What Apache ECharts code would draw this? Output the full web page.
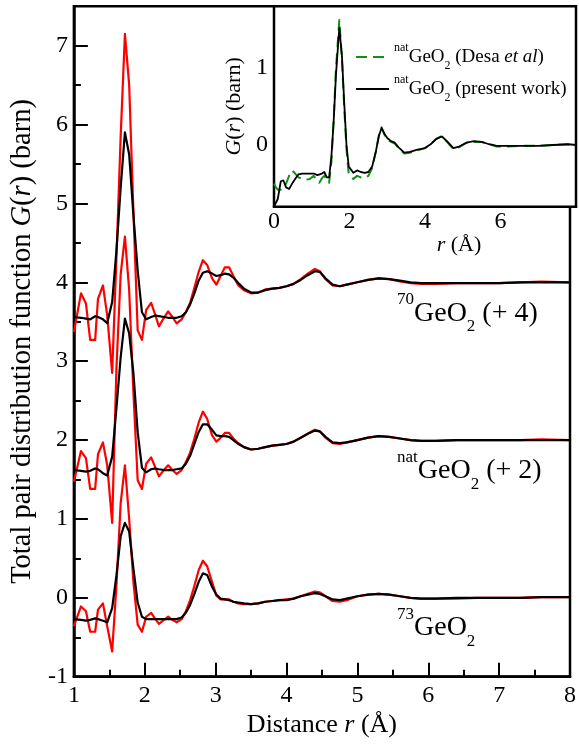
<!DOCTYPE html>
<html>
<head>
<meta charset="utf-8">
<script src="https://cdn.jsdelivr.net/npm/echarts@6/dist/echarts.min.js"></script>
<style>
html,body{margin:0;padding:0;background:#fff;}
#c{width:579px;height:745px;}
</style>
</head>
<body>
<div id="c"></div>
<script>
// ---------- data: main panel (r in Å, G(r) in barn, offsets already included) ----------
const rMain = [1.00,1.10,1.17,1.23,1.30,1.34,1.41,1.47,1.54,1.60,1.66,1.72,1.78,1.84,1.90,
  1.96,2.02,2.09,2.15,2.20,2.27,2.33,2.39,2.45,2.52,
  2.58,2.64,2.70,2.76,2.82,2.88,2.95,3.01,3.07,3.13,
  3.19,3.25,3.32,3.40,3.50,3.60,3.70,3.80,3.90,4.00,
  4.10,4.20,4.30,4.40,4.47,4.55,4.65,4.75,4.85,5.00,
  5.15,5.30,5.45,5.60,5.75,5.90,6.10,6.40,6.70,7.00,
  7.30,7.60,8.00];

const red70 = [3.37,3.86,3.73,3.27,3.27,3.79,3.96,3.58,2.85,4.30,5.85,7.15,6.50,4.90,3.39,
  3.27,3.65,3.74,3.58,3.44,3.55,3.63,3.56,3.48,3.53,
  3.62,3.74,3.93,4.13,4.28,4.22,4.05,3.97,4.08,4.19,
  4.19,4.08,3.96,3.90,3.86,3.87,3.91,3.92,3.93,3.95,
  3.98,4.04,4.11,4.17,4.14,4.04,3.96,3.95,3.97,4.00,
  4.03,4.05,4.04,4.01,3.99,3.98,3.98,3.99,3.99,3.99,
  4.00,4.01,4.00];
const black70 = [3.56,3.55,3.54,3.53,3.57,3.56,3.53,3.48,3.75,4.40,5.20,5.90,5.62,4.85,4.15,
  3.62,3.53,3.56,3.58,3.57,3.56,3.55,3.55,3.55,3.57,
  3.62,3.72,3.86,4.02,4.12,4.14,4.11,4.08,4.09,4.11,
  4.10,4.06,3.99,3.92,3.87,3.87,3.90,3.92,3.93,3.95,
  3.98,4.03,4.09,4.14,4.13,4.05,3.97,3.95,3.97,4.00,
  4.03,4.05,4.04,4.02,4.00,3.99,3.99,3.99,3.99,3.99,
  4.00,4.00,4.00];

const redNat = [1.47,1.86,1.77,1.38,1.38,1.82,1.97,1.68,0.95,2.90,4.10,4.58,3.90,2.60,1.49,
  1.38,1.70,1.78,1.65,1.54,1.62,1.68,1.62,1.57,1.62,
  1.72,1.84,2.02,2.22,2.36,2.27,2.06,1.98,2.03,2.09,
  2.09,2.02,1.96,1.91,1.88,1.89,1.91,1.93,1.94,1.95,
  1.98,2.03,2.08,2.13,2.11,2.03,1.96,1.95,1.97,2.00,
  2.03,2.05,2.04,2.02,2.00,1.99,1.99,2.00,2.00,2.00,
  2.00,2.01,2.00];
const blackNat = [1.62,1.61,1.60,1.61,1.64,1.63,1.58,1.55,1.79,2.40,3.05,3.54,3.35,2.85,2.10,
  1.65,1.59,1.63,1.64,1.63,1.62,1.62,1.62,1.63,1.64,
  1.70,1.80,1.95,2.10,2.20,2.20,2.13,2.06,2.05,2.05,
  2.04,2.00,1.95,1.91,1.88,1.89,1.91,1.93,1.94,1.95,
  1.98,2.03,2.08,2.12,2.11,2.04,1.97,1.96,1.97,2.00,
  2.03,2.05,2.04,2.02,2.00,1.99,1.99,2.00,2.00,2.00,
  2.00,2.00,2.00];

const red73 = [-0.36,-0.11,-0.17,-0.43,-0.43,-0.15,-0.07,-0.36,-0.68,0.15,1.20,1.68,1.00,0.20,-0.34,
  -0.43,-0.24,-0.19,-0.27,-0.33,-0.28,-0.24,-0.28,-0.31,-0.27,
  -0.17,-0.03,0.15,0.35,0.47,0.40,0.20,0.03,-0.02,-0.02,
  -0.02,-0.05,-0.07,-0.08,-0.08,-0.07,-0.05,-0.04,-0.03,-0.02,
  -0.01,0.02,0.05,0.08,0.07,0.02,-0.04,-0.05,-0.03,0.02,
  0.04,0.05,0.04,0.02,0.00,-0.01,-0.01,-0.01,0.00,0.00,
  0.00,0.01,0.01];
const black73 = [-0.27,-0.28,-0.29,-0.28,-0.26,-0.27,-0.29,-0.31,-0.13,0.28,0.78,0.95,0.84,0.37,-0.06,
  -0.24,-0.27,-0.27,-0.27,-0.27,-0.27,-0.27,-0.27,-0.27,-0.25,
  -0.19,-0.09,0.05,0.20,0.31,0.29,0.14,0.04,-0.01,-0.02,
  -0.03,-0.05,-0.06,-0.07,-0.08,-0.07,-0.05,-0.04,-0.03,-0.03,
  -0.01,0.02,0.04,0.06,0.05,0.02,-0.02,-0.03,-0.01,0.02,
  0.04,0.05,0.04,0.02,0.00,-0.01,-0.01,0.00,0.00,0.00,
  0.00,0.01,0.01];

// ---------- data: inset ----------
const rInset = [0.00,0.05,0.10,0.18,0.25,0.32,0.40,0.48,0.56,0.65,0.75,0.85,0.95,
  1.05,1.15,1.20,1.27,1.33,1.40,1.46,1.52,1.58,1.64,
  1.73,1.80,1.86,1.92,1.98,2.10,2.20,2.30,2.40,2.50,
  2.60,2.70,2.78,2.85,2.92,3.00,3.10,3.20,3.30,3.45,
  3.60,3.80,4.00,4.15,4.30,4.45,4.60,4.75,4.90,5.10,
  5.30,5.50,5.70,5.90,6.20,6.60,7.00,7.40,7.80,8.00];
const presentNat = [-0.80,-0.80,-0.70,-0.47,-0.46,-0.55,-0.57,-0.50,-0.44,-0.38,-0.37,-0.37,-0.37,
  -0.37,-0.39,-0.40,-0.37,-0.35,-0.42,-0.42,-0.15,0.30,0.90,
  1.52,1.15,0.55,0.00,-0.28,-0.36,-0.33,-0.35,-0.36,-0.35,
  -0.28,-0.08,0.12,0.22,0.15,0.09,0.05,0.03,-0.03,-0.10,
  -0.09,-0.06,-0.04,0.01,0.08,0.11,0.04,-0.04,-0.02,0.03,
  0.05,0.04,0.01,-0.01,-0.01,-0.01,-0.01,0.00,0.01,0.00];
const desaNat = [-0.50,-0.55,-0.58,-0.58,-0.56,-0.50,-0.40,-0.33,-0.37,-0.42,-0.44,-0.45,-0.44,
  -0.40,-0.46,-0.49,-0.43,-0.40,-0.46,-0.49,-0.22,0.32,0.98,
  1.62,1.12,0.48,-0.05,-0.38,-0.44,-0.40,-0.42,-0.43,-0.40,
  -0.30,-0.08,0.13,0.23,0.14,0.07,0.04,0.02,-0.04,-0.11,
  -0.10,-0.07,-0.04,0.01,0.08,0.12,0.03,-0.05,-0.03,0.03,
  0.04,0.04,0.01,-0.02,-0.02,-0.01,-0.01,0.00,0.01,0.00];

const nameDesa = 'natGeO2 (Desa et al)';
const namePresent = 'natGeO2 (present work)';

// ---------- chart ----------
const FONT = '"Liberation Serif", "DejaVu Serif", serif';
const pairs = (xs, ys) => xs.map((x, i) => [x, ys[i]]);

function line(name, xs, ys, color, width, gi, dash) {
  return {
    name: name, type: 'line', xAxisIndex: gi, yAxisIndex: gi,
    data: pairs(xs, ys), symbol: 'none', showSymbol: false, smooth: false,
    lineStyle: { color: color, width: width, type: dash || 'solid', join: 'round' },
    itemStyle: { color: color },
    emphasis: { disabled: true }, z: gi === 1 ? 5 : 2
  };
}

const tickFont = { fontFamily: FONT, fontSize: 24, color: '#000' };
const tickLine = { color: '#000', width: 2 };

const labelRich = {
  m: { fontFamily: FONT, fontSize: 28, lineHeight: 44, color: '#000' },
  sup: { fontFamily: FONT, fontSize: 17, lineHeight: 12, verticalAlign: 'top', color: '#000' },
  sub: { fontFamily: FONT, fontSize: 17, lineHeight: 19, verticalAlign: 'bottom', color: '#000' }
};
function seriesLabel(text, x, y) {
  return { type: 'text', x: x, y: y, z: 10,
    style: { text: text, rich: labelRich, fill: '#000', align: 'left', verticalAlign: 'top',
             fontFamily: FONT, fontSize: 28 } };
}

const chart = echarts.init(document.getElementById('c'), null, { renderer: 'canvas' });
chart.setOption({
  animation: false,
  backgroundColor: '#fff',
  grid: [
    { left: 73.3, right: 2.3, top: 6.2, bottom: 68.3, show: true, borderColor: '#000', borderWidth: 2.5, backgroundColor: 'rgba(0,0,0,0)' },
    { left: 274, right: 3, top: 6.2, height: 200.5, show: true, borderColor: '#000', borderWidth: 2.5, backgroundColor: '#fff', z: 4 }
  ],
  xAxis: [
    { gridIndex: 0, type: 'value', min: 1, max: 8, interval: 1,
      axisLine: { show: true, onZero: false, lineStyle: { color: '#000', width: 2.5 } },
      axisTick: { inside: true, length: 14, lineStyle: tickLine },
      minorTick: { show: true, splitNumber: 2, length: 7, lineStyle: tickLine },
      splitLine: { show: false }, minorSplitLine: { show: false },
      axisLabel: Object.assign({ margin: 7 }, tickFont),
      name: 'Distance {i|r} (Å)', nameLocation: 'middle', nameGap: 30,
      nameTextStyle: { fontFamily: FONT, fontSize: 26, color: '#000',
        rich: { i: { fontFamily: FONT, fontSize: 26, fontStyle: 'italic', color: '#000' } } } },
    { gridIndex: 1, type: 'value', min: 0, max: 8, interval: 2,
      axisLine: { show: true, onZero: false, lineStyle: { color: '#000', width: 2.5 } },
      axisTick: { inside: true, length: 13, lineStyle: tickLine },
      minorTick: { show: true, splitNumber: 2, length: 7, lineStyle: tickLine },
      splitLine: { show: false }, minorSplitLine: { show: false },
      axisLabel: Object.assign({ margin: 3, showMaxLabel: false }, tickFont),
      name: '{i|r} (Å)', nameLocation: 'middle', nameGap: 19,
      nameTextStyle: { fontFamily: FONT, fontSize: 22, color: '#000', padding: [0, 0, 0, 68],
        rich: { i: { fontFamily: FONT, fontSize: 22, fontStyle: 'italic', color: '#000' } } } }
  ],
  yAxis: [
    { gridIndex: 0, type: 'value', min: -1, max: 7.5, interval: 1,
      axisLine: { show: true, onZero: false, lineStyle: { color: '#000', width: 2.5 } },
      axisTick: { inside: true, length: 14, lineStyle: tickLine },
      minorTick: { show: true, splitNumber: 2, length: 7, lineStyle: tickLine },
      splitLine: { show: false }, minorSplitLine: { show: false },
      axisLabel: Object.assign({ margin: 6, showMaxLabel: false }, tickFont),
      name: 'Total pair distribution function {i|G}({i|r}) (barn)', nameLocation: 'middle', nameGap: 36,
      nameTextStyle: { fontFamily: FONT, fontSize: 28.5, color: '#000',
        rich: { i: { fontFamily: FONT, fontSize: 28.5, fontStyle: 'italic', color: '#000' } } } },
    { gridIndex: 1, type: 'value', min: -0.8, max: 1.8, splitNumber: 3,
      axisLine: { show: true, onZero: false, lineStyle: { color: '#000', width: 2.5 } },
      axisTick: { inside: true, length: 13, lineStyle: tickLine },
      minorTick: { show: true, splitNumber: 5, length: 7, lineStyle: tickLine },
      splitLine: { show: false }, minorSplitLine: { show: false },
      axisLabel: Object.assign({ margin: 6, showMaxLabel: false, showMinLabel: false }, tickFont),
      name: '{i|G}({i|r}) (barn)', nameLocation: 'middle', nameGap: 24,
      nameTextStyle: { fontFamily: FONT, fontSize: 22, color: '#000',
        rich: { i: { fontFamily: FONT, fontSize: 22, fontStyle: 'italic', color: '#000' } } } }
  ],
  legend: {
    data: [nameDesa, namePresent], orient: 'vertical', left: 355, top: 42, padding: 0,
    itemWidth: 33, itemHeight: 12, itemGap: 2, selectedMode: false,
    itemStyle: { opacity: 0, borderWidth: 0 },
    formatter: function (n) {
      return n === nameDesa
        ? '{sup|nat}{m|GeO}{sub|2}{m| (Desa }{it|et al}{m|)}'
        : '{sup|nat}{m|GeO}{sub|2}{m| (present work)}';
    },
    textStyle: { fontFamily: FONT, fontSize: 19, color: '#000',
      rich: {
        m: { fontFamily: FONT, fontSize: 19, lineHeight: 30, color: '#000' },
        it: { fontFamily: FONT, fontSize: 19, lineHeight: 30, fontStyle: 'italic', color: '#000' },
        sup: { fontFamily: FONT, fontSize: 12, lineHeight: 8, verticalAlign: 'top', color: '#000' },
        sub: { fontFamily: FONT, fontSize: 12, lineHeight: 13, verticalAlign: 'bottom', color: '#000' }
      } }
  },
  graphic: [
    seriesLabel('{sup|70}{m|GeO}{sub|2}{m| (+ 4)}', 397, 291.4),
    seriesLabel('{sup|nat}{m|GeO}{sub|2}{m| (+ 2)}', 397, 448.9),
    seriesLabel('{sup|73}{m|GeO}{sub|2}', 397, 605.6)
  ],
  series: [
    line('70GeO2 raw', rMain, red70, '#ff0000', 2.2, 0),
    line('natGeO2 raw', rMain, redNat, '#ff0000', 2.2, 0),
    line('73GeO2 raw', rMain, red73, '#ff0000', 2.2, 0),
    line('70GeO2', rMain, black70, '#000000', 2.2, 0),
    line('natGeO2', rMain, blackNat, '#000000', 2.2, 0),
    line('73GeO2', rMain, black73, '#000000', 2.2, 0),
    line(nameDesa, rInset, desaNat, '#139013', 2, 1, [11, 6]),
    line(namePresent, rInset, presentNat, '#000000', 1.8, 1)
  ]
});
</script>
</body>
</html>
